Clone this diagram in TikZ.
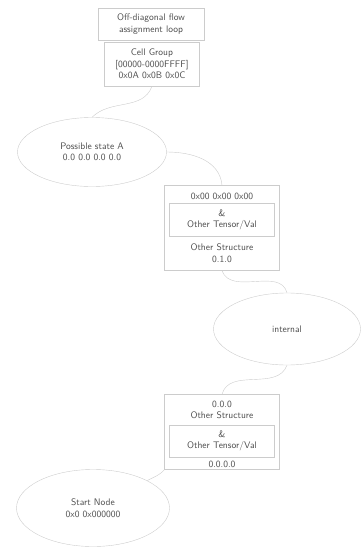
\documentclass[tikz,border=0pt]{standalone}
\usepackage{tikz}
\usetikzlibrary{shapes.geometric, positioning}
\def\edgeGray{gray!40}
\def\textGray{black!70}
\def\lineSkip{11.5}

\begin{document}
\begin{tikzpicture}[
    x=1pt, y=-1pt,
    thin,
    every node/.style={inner sep=0pt, align=center, text=\textGray, font=\fontsize{9.5}{\lineSkip}\sffamily},
    box/.style={rectangle, draw=\edgeGray},
    state/.style={ellipse, draw=\edgeGray},
    link/.style={draw=\edgeGray}
]
\useasboundingbox (0,0) rectangle (363,551);

% top pair of boxes
\node[box, minimum width=106pt, minimum height=32pt] (assign) at (151,24) {Off-diagonal flow\\assignment loop};
\node[box, minimum width=95pt, minimum height=44pt] (group) at (152,64) {Cell Group\\{[}00000-0000FFFF{]}\\0x0A 0x0B 0x0C};

% first state
\node[state, minimum width=149pt, minimum height=69pt] (possible) at (92,152) {Possible state A\\0.0 0.0 0.0 0.0};

% middle box
\node[box, minimum width=115pt, minimum height=85pt] (midOuter) at (222,228) {};
\node[box, minimum width=105pt, minimum height=33pt] (midInner) at (222,220) {\&\\Other Tensor/Val};
\node (midTop) at (222,196) {0x00 0x00 0x00};
\node (midBottom) at (222,253) {Other Structure\\0.1.0};

% internal state
\node[state, minimum width=147pt, minimum height=72pt] (internal) at (287,329) {internal};

% lower box
\node[box, minimum width=115pt, minimum height=75pt] (lowOuter) at (222,432) {};
\node[box, minimum width=105pt, minimum height=32pt] (lowInner) at (222,441) {\&\\Other Tensor/Val};
\node (lowTop) at (222,410) {0.0.0\\Other Structure};
\node (lowBottom) at (222,464) {0.0.0.0};

% start state
\node[state, minimum width=153pt, minimum height=77pt] (start) at (93,508) {Start Node\\0x0 0x000000};

\draw[link] (group.south) to[out=250,in=45] (possible.north);
\draw[link] (possible.east) to[out=0,in=95] (midOuter.north);
\draw[link] (midOuter.south) to[out=-70,in=105] (internal.north);
\draw[link] (internal.south) to[out=-110,in=75] (lowOuter.north);
\draw[link] (lowOuter.south west) to[out=230,in=30] (start.north east);
\end{tikzpicture}
\end{document}
